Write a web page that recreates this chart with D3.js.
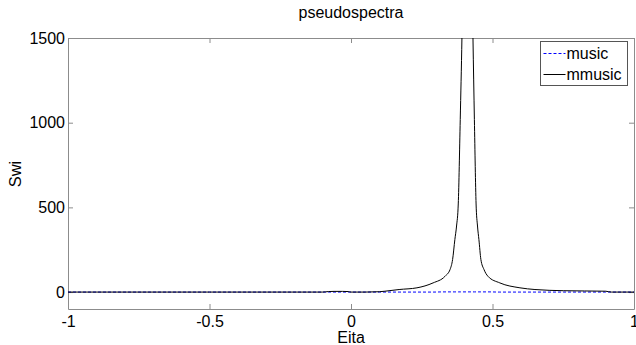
<!DOCTYPE html>
<html>
<head>
<meta charset="utf-8">
<script src="https://cdn.jsdelivr.net/npm/d3@7"></script>
<style>
  body { margin: 0; background: #fff; }
  svg { display: block; font-family: "Liberation Sans", Arial, sans-serif; }
</style>
</head>
<body>
<div id="chart"></div>
<script>
// values
const eita = [-1, -0.5, -0.1, -0.08, -0.06, -0.03, -0.01, 0, 0.05, 0.1, 0.12, 0.17, 0.233, 0.29, 0.332, 0.35,
  0.359, 0.367, 0.373, 0.379, 0.386, 0.392, 0.41, 0.431, 0.436, 0.442, 0.447, 0.452, 0.459, 0.47, 0.484,
  0.526, 0.597, 0.65, 0.75, 0.9, 0.92, 1];
const mmusic = [0, 0, 0, 3, 4, 4, 3, 0, 0, 2, 5, 15, 25, 54, 93, 133,
  192, 310, 390, 520, 1018, 1500, 4000, 1500, 1018, 520, 390, 310, 192, 133, 93,
  54, 25, 15, 8, 5, 0, 0];
const music = [0, 0, 0, 0, 0, 0, 0, 0, 0, 0, 0, 0, 0, 0, 1, 1,
  1, 1, 1, 1, 1, 1, 1, 1, 1, 1, 1, 1, 1, 1, 1,
  0, 0, 0, 0, 0, 0, 0];
const xTicks = [-1, -0.5, 0, 0.5, 1];
const yTicks = [0, 500, 1000, 1500];
const legendNames = ["music", "mmusic"];

const width = 636, height = 345;
const margin = {top: 38, right: 2, bottom: 36, left: 68};
const w = width - margin.left - margin.right;
const h = height - margin.top - margin.bottom;

const svg = d3.select("#chart").append("svg")
    .attr("width", width)
    .attr("height", height);

const x = d3.scaleLinear().domain([-1, 1]).range([0, w]);
const y = d3.scaleLinear().domain([-100, 1500]).range([h, 0]);

const g = svg.append("g").attr("transform", `translate(${margin.left},${margin.top})`);

g.append("clipPath").attr("id", "clip")
  .append("rect").attr("width", w).attr("height", h);

// axes with inward ticks, box around
const axisColor = "#8c8c8c";
const fmt = d => String(d);
const gx = g.append("g").attr("transform", `translate(0,${h})`)
    .call(d3.axisBottom(x).tickValues(xTicks).tickFormat(fmt).tickSizeInner(-5).tickSizeOuter(0).tickPadding(7));
const gxTop = g.append("g")
    .call(d3.axisTop(x).tickValues(xTicks).tickFormat("").tickSizeInner(-5).tickSizeOuter(0));
const gy = g.append("g")
    .call(d3.axisLeft(y).tickValues(yTicks).tickFormat(fmt).tickSizeInner(-5).tickSizeOuter(0).tickPadding(3));
const gyRight = g.append("g").attr("transform", `translate(${w},0)`)
    .call(d3.axisRight(y).tickValues(yTicks).tickFormat("").tickSizeInner(-5).tickSizeOuter(0));

[gx, gxTop, gy, gyRight].forEach(a => {
  a.selectAll("path, line").attr("stroke", axisColor);
  a.selectAll("text").attr("fill", "#000").attr("font-size", 16);
});

// lines
const line = vals => d3.line()
    .curve(d3.curveMonotoneX)
    .x((d, i) => x(eita[i]))
    .y((d, i) => y(vals[i]));

g.append("path")
    .attr("clip-path", "url(#clip)")
    .attr("d", line(music)(music))
    .attr("fill", "none")
    .attr("stroke", "#0000ff")
    .attr("stroke-width", 1)
    .attr("stroke-dasharray", "3,2");

g.append("path")
    .attr("clip-path", "url(#clip)")
    .attr("d", line(mmusic)(mmusic))
    .attr("fill", "none")
    .attr("stroke", "#000")
    .attr("stroke-width", 1);

// titles
svg.append("text")
    .attr("x", margin.left + w / 2).attr("y", 18)
    .attr("text-anchor", "middle").attr("font-size", 16)
    .text("pseudospectra");

svg.append("text")
    .attr("x", margin.left + w / 2).attr("y", 343)
    .attr("text-anchor", "middle").attr("font-size", 16)
    .text("Eita");

svg.append("text")
    .attr("transform", `translate(21,174) rotate(-90)`)
    .attr("text-anchor", "middle").attr("font-size", 16.5)
    .text("Swi");

// legend
const lg = svg.append("g").attr("transform", "translate(540.5,41.5)");
lg.append("rect")
    .attr("width", 87).attr("height", 44)
    .attr("fill", "#fff").attr("stroke", "#555").attr("stroke-width", 1);

const styles = [
  {stroke: "#0000ff", dash: "3,2"},
  {stroke: "#000", dash: null}
];
legendNames.forEach((name, i) => {
  const yy = 12 + i * 21;
  lg.append("line")
      .attr("x1", 3).attr("x2", 25).attr("y1", yy).attr("y2", yy)
      .attr("stroke", styles[i].stroke)
      .attr("stroke-dasharray", styles[i].dash);
  lg.append("text")
      .attr("x", 26).attr("y", yy + 5.5)
      .attr("font-size", 16)
      .text(name);
});
</script>
</body>
</html>
